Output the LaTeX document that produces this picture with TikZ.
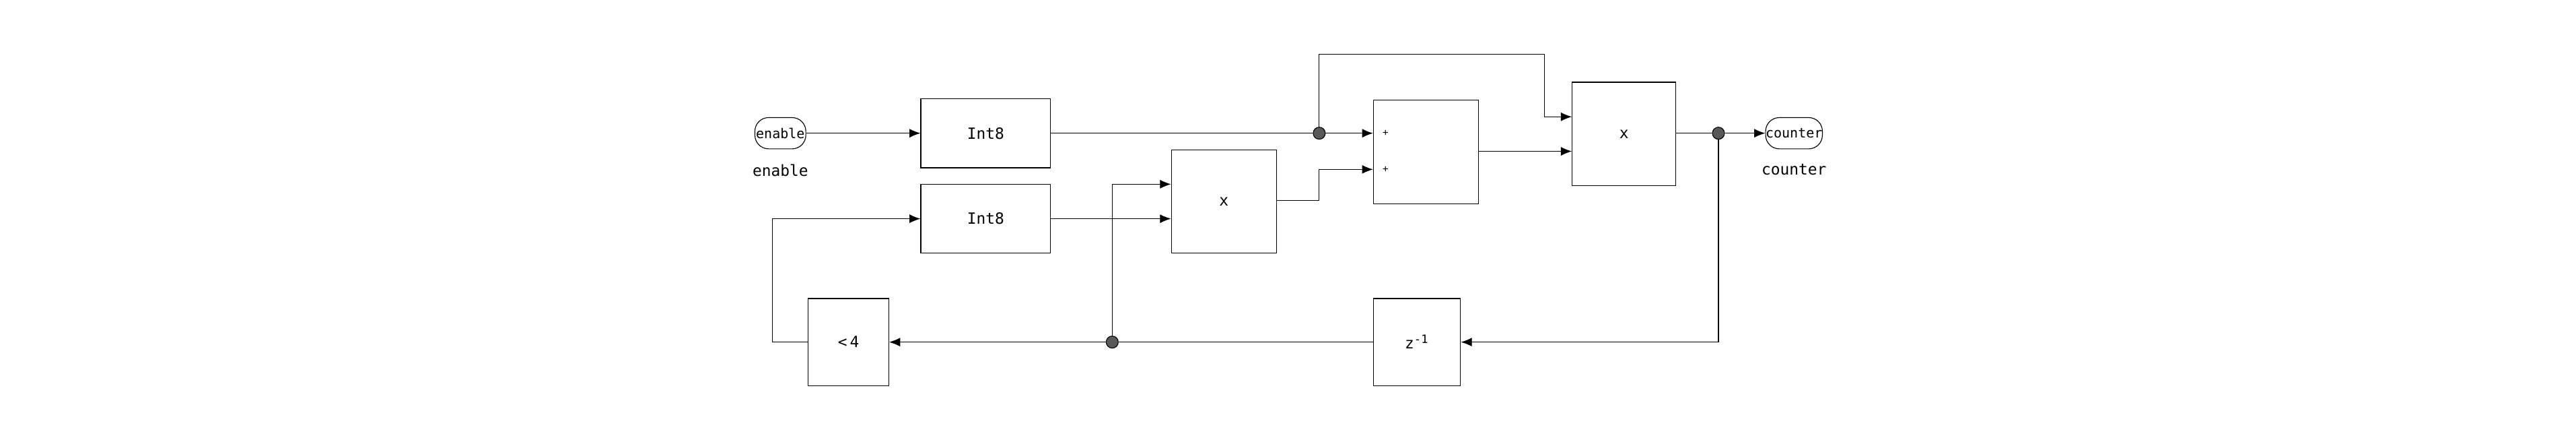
\documentclass[tikz,border=0pt]{standalone}
\usepackage{fontspec}
\setmonofont{DejaVu Sans Mono}
\usetikzlibrary{arrows.meta,positioning}
\tikzset{%
block/.style={draw,font=\ttfamily\fontsize{8}{9}\selectfont,inner sep=0pt},
port/.style={draw,rounded corners=2.5mm,font=\ttfamily\fontsize{7}{8}\selectfont,minimum width=0.93cm,minimum height=0.57cm,inner sep=0pt},
tag/.style={font=\ttfamily\fontsize{8}{9}\selectfont},
sig/.style={draw,-{Latex[length=2mm,width=1.6mm]}},
wire/.style={draw},
junction/.style={circle,draw,fill=black!65,minimum size=2.2mm,inner sep=0pt}
}
\begin{document}
\begin{tikzpicture}[x=0.03cm,y=-0.03cm]
\useasboundingbox (0,0) rectangle (1568,265);
\node[port]  (enable)  at (475,81)  {enable};
\node[tag,below = 1.5mm of enable] (enablelbl) {enable};
\node[block,minimum width=2.37cm,minimum height=1.26cm] (intA) at (600,81)  {Int8};
\node[block,minimum width=2.37cm,minimum height=1.26cm] (intB) at (600,133) {Int8};
\node[block,minimum width=1.92cm,minimum height=1.89cm] (mulA) at (745,122.5) {x};
\node[block,minimum width=1.92cm,minimum height=1.89cm] (sum)  at (868,92.5)  {};
\node[font=\ttfamily\tiny,right=0.5mm] at ([yshift=-0.0cm]sum.west |- 0,81)  {+};
\node[font=\ttfamily\tiny,right=0.5mm] at (sum.west |- 0,103) {+};
\node[block,minimum width=1.89cm,minimum height=1.89cm] (mulB) at (988.5,81.5) {x};
\node[port]  (counter) at (1092,81) {counter};
\node[tag,below = 1.5mm of counter] (counterlbl) {counter};
\node[block,minimum width=1.59cm,minimum height=1.59cm] (delay) at (862.5,208) {z\textsuperscript{-1}};
\node[block,minimum width=1.47cm,minimum height=1.59cm] (less)  at (516.5,208) {<\,4};
\node[junction] (jA) at (803,81)  {};
\node[junction] (jB) at (1046,81) {};
\node[junction] (jC) at (677,208) {};
\coordinate (topA) at (940,33);

\draw[sig]  (enable) -- (intA);
\draw[wire] (intA) -- (jA);
\draw[sig]  (jA) -- (sum.west |- jA);
\draw[sig]  (jA) |- (topA) |- (mulB.west |- 0,71);
\draw[sig]  (intB) -- (mulA.west |- intB);
\draw[sig]  (mulA.east |- 0,122) -| (803,103) -- (sum.west |- 0,103);
\draw[sig]  (sum.east |- 0,92) -- (mulB.west |- 0,92);
\draw[wire] (mulB.east |- jB) -- (jB);
\draw[sig]  (jB) -- (counter);
\draw[sig]  (jB) |- (delay.east);
\draw[wire] (delay.west) -- (jC);
\draw[sig]  (jC) -- (less.east);
\draw[sig]  (jC) |- (mulA.west |- 0,112);
\draw[sig]  (less.west) -| (470,133) -- (intB.west);
\end{tikzpicture}
\end{document}
